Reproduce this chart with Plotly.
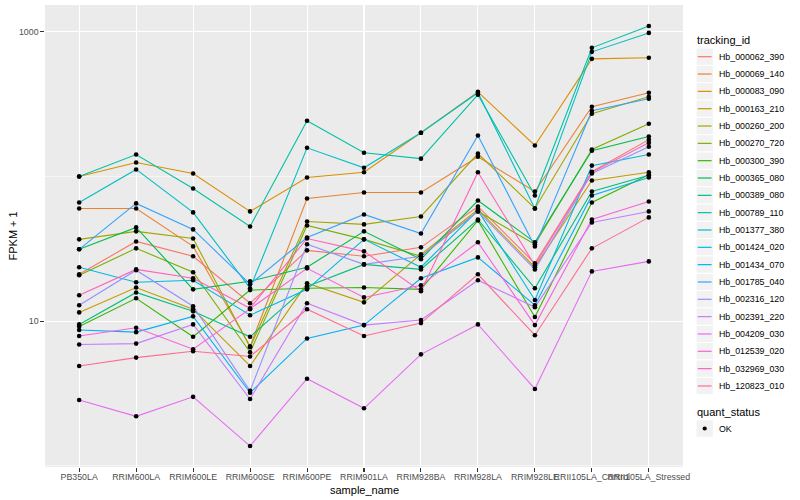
import plotly.graph_objects as go

# ---------------- data ----------------
sample_names = ["PB350LA", "RRIM600LA", "RRIM600LE", "RRIM600SE", "RRIM600PE",
                "RRIM901LA", "RRIM928BA", "RRIM928LA", "RRIM928LE",
                "RRII105LA_Control", "RRII105LA_Stressed"]

tracking_ids = ["Hb_000062_390", "Hb_000069_140", "Hb_000083_090", "Hb_000163_210",
                "Hb_000260_200", "Hb_000270_720", "Hb_000300_390", "Hb_000365_080",
                "Hb_000389_080", "Hb_000789_110", "Hb_001377_380", "Hb_001424_020",
                "Hb_001434_070", "Hb_001785_040", "Hb_002316_120", "Hb_002391_220",
                "Hb_004209_030", "Hb_012539_020", "Hb_032969_030", "Hb_120823_010"]

colors = ["#F8766D", "#EA8331", "#D89000", "#C09B00", "#A3A500", "#7CAE00", "#39B600",
          "#00BB4E", "#00BF7D", "#00C1A3", "#00BFC4", "#00BAE0", "#00B0F6", "#35A2FF",
          "#9590FF", "#C77CFF", "#E76BF3", "#FA62DB", "#FF62BC", "#FF6C91"]

# FPKM + 1 per sample (order of sample_names)
Hb_000062_390 = [21.1, 35.6, 28.1, 13.3, 30.9, 28.1, 32.4, 62.1, 25.1, 108, 180]
Hb_000069_140 = [60.2, 60.2, 32.9, 6.7, 70.5, 77.6, 77.6, 137, 78.8, 304, 380]
Hb_000083_090 = [100, 125, 105, 57.4, 98.4, 107, 201, 385, 164, 651, 662]
Hb_000163_210 = [11.5, 17.1, 12.1, 4.9, 18.3, 13.5, 29.0, 59.2, 23.6, 93.8, 107]
Hb_000260_200 = [36.8, 41.8, 37.3, 6.6, 48.9, 46.7, 53.0, 144, 60.2, 272, 356]
Hb_000270_720 = [20.8, 31.9, 21.8, 6.1, 45.9, 36.8, 28.1, 57.4, 34.0, 154, 232]
Hb_000300_390 = [9.2, 14.4, 7.8, 16.4, 16.9, 17.1, 16.6, 49.7, 10.7, 66.2, 103]
Hb_000365_080 = [31.4, 44.5, 16.6, 18.9, 23.6, 41.8, 26.8, 68.3, 35.1, 151, 189]
Hb_000389_080 = [9.5, 15.8, 11.7, 7.8, 17.4, 24.7, 22.8, 50.5, 16.9, 78.8, 102]
Hb_000789_110 = [100, 142, 82.6, 45.2, 243, 146, 133, 368, 74.0, 776, 1099]
Hb_001377_380 = [66.2, 112, 56.5, 16.9, 158, 115, 201, 380, 60.2, 728, 984]
Hb_001424_020 = [23.6, 18.6, 19.2, 11.0, 16.6, 36.8, 23.6, 58.3, 14.0, 119, 142]
Hb_001434_070 = [8.7, 8.4, 10.8, 3.2, 7.6, 9.4, 19.8, 27.6, 12.9, 74.0, 98.4]
Hb_001785_040 = [31.4, 65.2, 43.1, 18.0, 37.9, 54.7, 40.4, 192, 32.9, 285, 345]
Hb_002316_120 = [12.9, 22.5, 12.7, 3.3, 34.0, 24.7, 28.1, 57.4, 22.8, 105, 161]
Hb_002391_220 = [6.9, 7.0, 9.5, 2.9, 13.3, 9.4, 10.2, 19.2, 12.5, 48.2, 57.4]
Hb_004209_030 = [2.85, 2.2, 3.0, 1.37, 4.0, 2.5, 5.9, 9.5, 3.4, 22.1, 25.9]
Hb_012539_020 = [7.9, 9.0, 6.4, 12.1, 23.2, 14.6, 17.7, 35.1, 9.4, 50.5, 67.3]
Hb_032969_030 = [15.1, 22.8, 19.8, 12.3, 37.3, 30.4, 16.1, 107, 24.3, 107, 171]
Hb_120823_010 = [4.9, 5.6, 6.2, 5.7, 12.1, 7.9, 9.7, 21.1, 8.0, 31.9, 52.2]

series_values = [Hb_000062_390, Hb_000069_140, Hb_000083_090, Hb_000163_210,
                 Hb_000260_200, Hb_000270_720, Hb_000300_390, Hb_000365_080,
                 Hb_000389_080, Hb_000789_110, Hb_001377_380, Hb_001424_020,
                 Hb_001434_070, Hb_001785_040, Hb_002316_120, Hb_002391_220,
                 Hb_004209_030, Hb_012539_020, Hb_032969_030, Hb_120823_010]

y_tick_values = [10, 1000]
y_tick_labels = ["10", "1000"]
y_minor_values = [1, 100]
quant_status_levels = ["OK"]

# ---------------- layout constants ----------------
W, H = 800, 500
L, R, T, B = 45, 117, 5, 33
PW, PH = W - L - R, H - T - B
FONT = "Liberation Sans, Arial, Helvetica, sans-serif"
PANEL = "#EBEBEB"


def px(x):
    return (x - L) / PW


def py(y):
    return (H - B - y) / PH


fig = go.Figure()

# lines first (ggplot geom_line), then points on top (geom_point)
for name, vals, col in zip(tracking_ids, series_values, colors):
    fig.add_trace(go.Scatter(x=sample_names, y=vals, mode="lines", name=name,
                             line=dict(color=col, width=1.1), showlegend=False))
for name, vals in zip(tracking_ids, series_values):
    fig.add_trace(go.Scatter(x=sample_names, y=vals, mode="markers", name=name,
                             marker=dict(color="black", size=4.6, line=dict(width=0)),
                             showlegend=False))

shapes = []
annotations = []

# ---------- manual ggplot-style legend ----------
annotations.append(dict(text="tracking_id", x=px(695), y=py(40.5), xref="paper", yref="paper",
                        xanchor="left", yanchor="middle", showarrow=False,
                        font=dict(family=FONT, size=11, color="black")))
key_h = 17.33
first_c = 56.7
for i, (name, col) in enumerate(zip(tracking_ids, colors)):
    c = first_c + i * key_h
    shapes.append(dict(type="rect", xref="paper", yref="paper",
                       x0=px(696), x1=px(713.3), y0=py(c - key_h / 2), y1=py(c + key_h / 2),
                       fillcolor="#F2F2F2", line=dict(color="white", width=1), layer="above"))
    shapes.append(dict(type="line", xref="paper", yref="paper",
                       x0=px(697.7), x1=px(711.6), y0=py(c), y1=py(c),
                       line=dict(color=col, width=1.2), layer="above"))
    annotations.append(dict(text=name, x=px(717), y=py(c), xref="paper", yref="paper",
                            xanchor="left", yanchor="middle", showarrow=False,
                            font=dict(family=FONT, size=8.8, color="black")))

annotations.append(dict(text="quant_status", x=px(695), y=py(412.3), xref="paper", yref="paper",
                        xanchor="left", yanchor="middle", showarrow=False,
                        font=dict(family=FONT, size=11, color="black")))
for j, lvl in enumerate(quant_status_levels):
    c = 428.5 + j * key_h
    shapes.append(dict(type="rect", xref="paper", yref="paper",
                       x0=px(696), x1=px(713.3), y0=py(c - key_h / 2), y1=py(c + key_h / 2),
                       fillcolor="#F2F2F2", line=dict(color="white", width=1), layer="above"))
    shapes.append(dict(type="circle", xref="paper", yref="paper",
                       x0=px(702.6), x1=px(706.8), y0=py(c - 2.1), y1=py(c + 2.1),
                       fillcolor="black", line=dict(color="black", width=0), layer="above"))
    annotations.append(dict(text=lvl, x=px(717), y=py(c), xref="paper", yref="paper",
                            xanchor="left", yanchor="middle", showarrow=False,
                            font=dict(family=FONT, size=8.8, color="black")))

# axis titles
annotations.append(dict(text="sample_name", x=px(364), y=py(489.5), xref="paper", yref="paper",
                        xanchor="center", yanchor="middle", showarrow=False,
                        font=dict(family=FONT, size=11, color="black")))
annotations.append(dict(text="FPKM + 1", x=px(12.5), y=py(236), xref="paper", yref="paper",
                        xanchor="center", yanchor="middle", showarrow=False, textangle=-90,
                        font=dict(family=FONT, size=11, color="black")))

fig.update_layout(
    width=W, height=H,
    margin=dict(l=L, r=R, t=T, b=B, pad=0, autoexpand=False),
    paper_bgcolor="white", plot_bgcolor=PANEL,
    showlegend=False, hovermode=False,
    font=dict(family=FONT, size=8.8, color="#4D4D4D"),
    shapes=shapes, annotations=annotations,
    xaxis=dict(type="category", categoryorder="array", categoryarray=sample_names,
               range=[-0.6, len(sample_names) - 1 + 0.6], automargin=False,
               tickangle=0, ticklabelstandoff=-2,
               showgrid=True, gridcolor="white", gridwidth=1.07, zeroline=False,
               ticks="outside", ticklen=3.7, tickcolor="#333333", tickwidth=1.07,
               tickfont=dict(family=FONT, size=8.8, color="#4D4D4D"),
               showline=False, fixedrange=True),
    yaxis=dict(type="log", range=[-0.008, 3.186], automargin=False,
               tickmode="array", tickvals=y_tick_values, ticktext=y_tick_labels,
               showgrid=True, gridcolor="white", gridwidth=1.07, zeroline=False,
               ticks="outside", ticklen=3.7, tickcolor="#333333", tickwidth=1.07,
               tickfont=dict(family=FONT, size=8.8, color="#4D4D4D"),
               minor=dict(tickmode="array", tickvals=y_minor_values, showgrid=True,
                          gridcolor="white", gridwidth=0.53, ticks=""),
               showline=False, fixedrange=True),
)

fig.write_html("out.html", config={"displayModeBar": False, "staticPlot": True},
               post_script="document.body.style.margin='0px';")
